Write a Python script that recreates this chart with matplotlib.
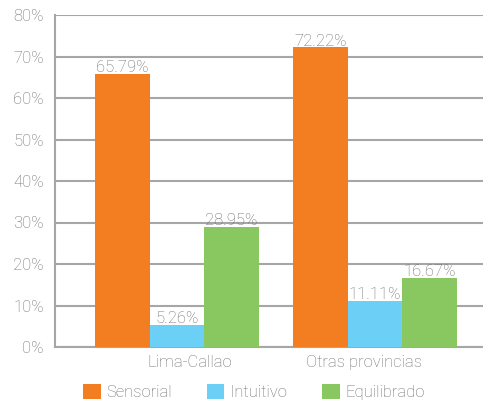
import matplotlib
matplotlib.use("Agg")
import matplotlib.pyplot as plt
import numpy as np

categories = ["Lima-Callao", "Otras provincias"]
series_names = ["Sensorial", "Intuitivo", "Equilibrado"]
sensorial = [65.79, 72.22]
intuitivo = [5.26, 11.11]
equilibrado = [28.95, 16.67]
value_labels = [["65.79%", "72.22%"], ["5.26%", "11.11%"], ["28.95%", "16.67%"]]
yticks = [0, 10, 20, 30, 40, 50, 60, 70, 80]
ytick_labels = ["0%", "10%", "20%", "30%", "40%", "50%", "60%", "70%", "80%"]

colors = ["#F37E22", "#6CCFF6", "#89C760"]
text_color = "#6f6f6f"
grid_color = "#a6a6a6"

plt.rcParams['font.family'] = ['Roboto', 'DejaVu Sans']
plt.rcParams['font.weight'] = 'light'
fs = 12

fig = plt.figure(figsize=(4.83, 4.0), dpi=100)
ax = fig.add_axes([55/483, 53/400, 1 - 55/483, 332/400])

x = np.arange(len(categories))
w = 0.275
series = [sensorial, intuitivo, equilibrado]
for i, (vals, c, name) in enumerate(zip(series, colors, series_names)):
    bars = ax.bar(x + (i - 1) * w, vals, width=w, color=c, label=name, zorder=3)
    for b, lab in zip(bars, value_labels[i]):
        ax.text(b.get_x() + b.get_width() / 2, b.get_height() - 0.3, lab,
                ha="center", va="bottom", fontsize=fs, color=text_color, zorder=4)

ax.set_xlim(-0.616, 1.545)
ax.set_ylim(0, 80)
ax.set_yticks(yticks)
ax.set_yticklabels(ytick_labels)
ax.set_xticks([0 + 0.066, 1 - 0.056])
ax.set_xticklabels(categories)
ax.tick_params(axis="both", length=0, labelsize=fs, colors=text_color)
ax.tick_params(axis="y", pad=8)
ax.tick_params(axis="x", pad=6)

ax.yaxis.grid(True, color=grid_color, linewidth=1.5, zorder=0)
ax.set_axisbelow(True)
for s in ["top", "right"]:
    ax.spines[s].set_visible(False)
for s in ["left", "bottom"]:
    ax.spines[s].set_color(grid_color)
    ax.spines[s].set_linewidth(1.5)

leg = fig.legend(loc="center left", bbox_to_anchor=(83/483, 1 - 392/400), ncol=3,
                 frameon=False, fontsize=fs, handlelength=1.05, handleheight=1.05,
                 handletextpad=0.35, columnspacing=2.1, borderaxespad=0, borderpad=0)
for t in leg.get_texts():
    t.set_color(text_color)

fig.savefig("out.png", dpi=100)
